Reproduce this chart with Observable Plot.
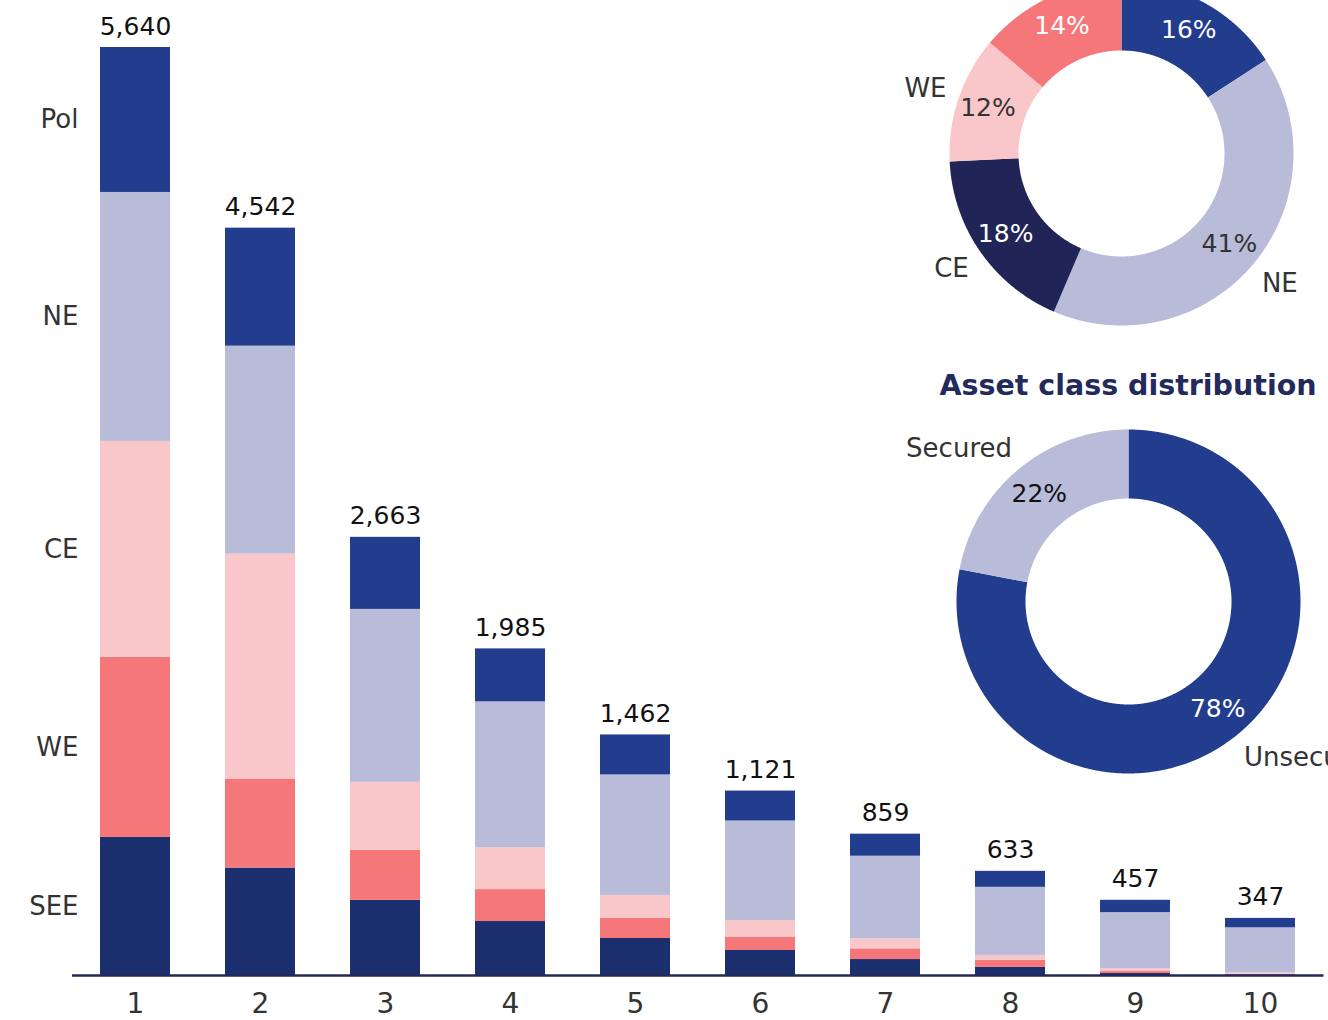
<!DOCTYPE html>
<html><head><meta charset="utf-8">
<script src="https://cdn.jsdelivr.net/npm/d3@7"></script>
<script src="https://cdn.jsdelivr.net/npm/@observablehq/plot@0.6"></script>
<style>
html,body{margin:0;padding:0;width:1328px;height:1020px;overflow:hidden;background:#fff;font-family:"DejaVu Sans",sans-serif;}
body{position:relative;}
#bars{position:absolute;left:0;top:0;width:1328px;}
.donut{position:absolute;width:480px;height:480px;}
#d1{left:881px;top:-87px;}
#d2{left:888px;top:361px;}
#title{position:absolute;left:878px;width:500px;text-align:center;top:372px;font-weight:bold;font-size:28.5px;line-height:1;color:#232A5C;white-space:nowrap;}
</style></head><body>
<div id="bars"></div>
<div id="d1" class="donut"></div>
<div id="d2" class="donut"></div>
<div id="title">Asset class distribution</div>
<script>
// ---- Data ----
const bars = [1, 2, 3, 4, 5, 6, 7, 8, 9, 10];
const regions = ["SEE", "WE", "CE", "NE", "Pol"]; // bottom to top
const SEE = [839, 653, 457, 328, 225, 152, 97, 49, 12, 3];
const WE  = [1094, 541, 304, 194, 122, 79, 65, 43, 12, 4];
const CE  = [1313, 1367, 413, 255, 140, 103, 61, 30, 18, 9];
const NE  = [1513, 1264, 1051, 886, 732, 605, 502, 414, 340, 274];
const Pol = [881, 717, 438, 322, 243, 182, 134, 97, 75, 57];
const totals = [5640, 4542, 2663, 1985, 1462, 1121, 859, 633, 457, 347];

const regionNames = ["Pol", "NE", "CE", "WE", "SEE"]; // clockwise from top
const regionShare = [16, 41, 18, 12, 14];
const assetNames = ["Unsecured", "Secured"];
const assetShare = [78, 22];

// ---- Styles ----
const FONT = "DejaVu Sans";
const barColors = {SEE: "#1B2F6F", WE: "#F6777A", CE: "#F9C7CA", NE: "#B8BCD9", Pol: "#223C8E"};
const donut1Colors = {Pol: "#223C8E", NE: "#B8BCD9", CE: "#212456", WE: "#F9C7CA", SEE: "#F6777A"};
const donut2Colors = {Unsecured: "#223C8E", Secured: "#B8BCD9"};

const series = {SEE, WE, CE, NE, Pol};
const data = [];
regions.forEach(r => bars.forEach((b, i) => data.push({bar: b, region: r, value: series[r][i]})));
const totalData = bars.map((b, i) => ({bar: b, total: totals[i]}));

const barPlot = Plot.plot({
  width: 1328, height: 1020,
  marginTop: 47, marginBottom: 45, marginLeft: 72, marginRight: 4.5,
  style: {fontFamily: FONT, background: "transparent", overflow: "visible", maxWidth: "none"},
  x: {domain: bars, paddingInner: 0.44, paddingOuter: 0.22, axis: null},
  y: {domain: [0, 5640], axis: null},
  color: {domain: regions, range: regions.map(r => barColors[r])},
  marks: [
    Plot.barY(data, {x: "bar", y: "value", fill: "region"}),
    Plot.ruleY([0], {stroke: "#23285A", strokeWidth: 2.5}),
    Plot.axisX({tickSize: 0, tickPadding: 18, fontSize: 28, color: "#333", label: null}),
    Plot.text(totalData, {x: "bar", y: "total", text: d => d3.format(",")(d.total), dy: -21, fontSize: 25, fill: "#111"}),
    Plot.text(data.filter(d => d.bar === 1), Plot.stackY({x: "bar", y: "value", text: "region", textAnchor: "end", dx: -57, fontSize: 26, fill: "#333"}))
  ]
});
document.getElementById("bars").append(barPlot);

function donut(names, shares, colors, opts) {
  const R = 172, r = 103, H = 240;
  const pie = d3.pie().sort(null).value(d => d)(shares);
  const pts = [];
  const slices = pie.map((p, i) => ({name: names[i], share: shares[i], a0: p.startAngle, a1: p.endAngle, mid: (p.startAngle + p.endAngle) / 2}));
  slices.forEach(s => {
    const n = Math.max(2, Math.ceil((s.a1 - s.a0) / 0.005));
    for (let k = 0; k <= n; k++) { const a = s.a0 + (s.a1 - s.a0) * k / n; pts.push({name: s.name, x: R * Math.sin(a), y: -R * Math.cos(a)}); }
    for (let k = n; k >= 0; k--) { const a = s.a0 + (s.a1 - s.a0) * k / n; pts.push({name: s.name, x: r * Math.sin(a), y: -r * Math.cos(a)}); }
  });
  const lr = opts.labelR;
  const pct = s => ({x: lr * Math.sin(s.mid), y: -lr * Math.cos(s.mid)});
  const outer = slices.filter(s => opts.outer[s.name]);
  return Plot.plot({
    width: 2 * H, height: 2 * H, margin: 0,
    style: {fontFamily: FONT, background: "transparent", overflow: "visible", maxWidth: "none"},
    x: {domain: [-H, H], range: [0, 2 * H], axis: null},
    y: {domain: [-H, H], range: [0, 2 * H], axis: null},
    color: {domain: names, range: names.map(n => colors[n])},
    marks: [
      Plot.line(pts, {x: "x", y: "y", z: "name", fill: "name", stroke: "none"}),
      Plot.text(slices.filter(s => opts.light.has(s.name)), {x: s => pct(s).x, y: s => pct(s).y, text: s => s.share + "%", fontSize: 25, fill: "#fff"}),
      Plot.text(slices.filter(s => !opts.light.has(s.name)), {x: s => pct(s).x, y: s => pct(s).y, text: s => s.share + "%", fontSize: 25, fill: opts.darkText}),
      ...outer.map(s => {
        const o = opts.outer[s.name];
        return Plot.text([s], {x: d => o.r * Math.sin(d.mid), y: d => -o.r * Math.cos(d.mid), text: "name", textAnchor: o.anchor, dx: o.dx || 0, dy: o.dy || 0, fontSize: 26, fill: "#333"});
      })
    ]
  });
}

document.getElementById("d1").append(donut(regionNames, regionShare, donut1Colors, {
  labelR: 141, light: new Set(["Pol", "CE", "SEE"]), darkText: "#333",
  outer: {WE: {r: 207, anchor: "middle", dy: 2}, CE: {r: 207, anchor: "middle", dy: -3}, NE: {r: 207, anchor: "middle", dy: -3}}
}));
document.getElementById("d2").append(donut(assetNames, assetShare, donut2Colors, {
  labelR: 140, light: new Set(["Unsecured"]), darkText: "#111",
  outer: {Secured: {r: 200, anchor: "end", dx: 11, dy: 1}, Unsecured: {r: 200, anchor: "start", dx: -12, dy: 2}}
}));
</script>
</body></html>
